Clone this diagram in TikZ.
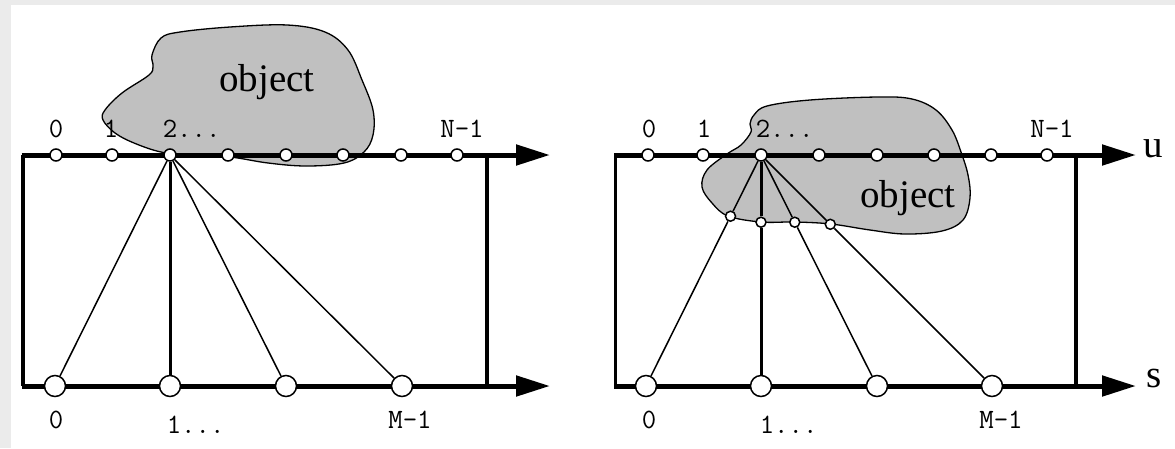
\documentclass[tikz,border=0pt]{standalone}
\usepackage{fontspec}
\setmainfont{Liberation Serif}
\usetikzlibrary{arrows.meta,calc}
\pgfdeclarelayer{bglayer}
\pgfdeclarelayer{bloblayer}
\pgfdeclarelayer{linelayer}
\pgfsetlayers{bglayer,bloblayer,linelayer,main}
\definecolor{pagegrey}{HTML}{EBEBEB}
\definecolor{blobgrey}{HTML}{C0C0C0}
\begin{document}
\begin{tikzpicture}[x=1pt,y=-1pt,
  axisline/.style={line width=5pt,-{Triangle[length=34pt,width=20pt]}},
  frameline/.style={line width=3.2pt},
  fanline/.style={line width=1.5pt},
  midline/.style={line width=3pt},
  dotsmall/.style={circle,draw,fill=white,line width=1.5pt,minimum size=12pt,inner sep=0pt},
  dotbig/.style={circle,draw,fill=white,line width=1.5pt,minimum size=21pt,inner sep=0pt},
  dotinner/.style={circle,draw,fill=white,line width=1.5pt,minimum size=10pt,inner sep=0pt},
  blob/.style={fill=blobgrey,draw=black,line width=1.3pt},
  idx/.style={font=\ttfamily\fontsize{28}{28}\selectfont,inner sep=0pt,anchor=base},
  word/.style={font=\fontsize{39}{39}\selectfont,inner sep=0pt,anchor=base},
]
\useasboundingbox (0,0) rectangle (1175,448);
\begin{pgfonlayer}{bglayer}
  \fill[white] (0,0) rectangle (1175,448);
  \fill[pagegrey] (0,0) rectangle (1175,5);
  \fill[pagegrey] (0,0) rectangle (11,448);
\end{pgfonlayer}

% ---------- blobs ----------
\begin{pgfonlayer}{bloblayer}
  \draw[blob] plot[smooth cycle,tension=0.6] coordinates {
    (161,38) (180,32) (230,27) (287,25) (325,32) (348,50) (362,80) (373,110)
    (373,135) (364,152) (344,163) (306,166) (268,163) (230,157) (190,155)
    (161,152) (134,143) (115,133) (103,120) (105,110) (122,93) (149,75)
    (153,66) (152,55)};
  \draw[blob] plot[smooth cycle,tension=0.6] coordinates {
    (767,106) (810,100) (878,97) (912,99) (936,110) (952,130) (961,152)
    (968,175) (970,198) (963,220) (942,231) (905,234) (870,230) (831,224)
    (795,222) (761,222) (728,216) (712,203) (702,187) (707,170) (727,154)
    (741,145) (751,132) (750,124) (754,115)};
\end{pgfonlayer}

% ---------- left panel ----------
\foreach \x [count=\i from 0] in {56,112,170,228,286,343,401,457}
  \node[dotsmall] (lt\i) at (\x,155) {};
\foreach \x [count=\i from 0] in {55,170,286,402}
  \node[dotbig] (lb\i) at (\x,386) {};
\coordinate (lTS) at (21.5,155);
\coordinate (lTE) at (550,155);
\coordinate (lBS) at (21.5,386);
\coordinate (lBE) at (550,386);
\coordinate (lVLt) at (23,155);
\coordinate (lVLb) at (23,386);
\coordinate (lVRt) at (487,155);
\coordinate (lVRb) at (487,386);

% ---------- right panel ----------
\foreach \x [count=\i from 0] in {648,703,761,819,877,934,991,1047}
  \node[dotsmall] (rt\i) at (\x,155) {};
\foreach \x [count=\i from 0] in {646,761,877,992}
  \node[dotbig] (rb\i) at (\x,386) {};
\node[dotinner] (ri0) at ($(rt2)!0.265!(rb0)$) {};
\node[dotinner] (ri1) at ($(rt2)!0.291!(rb1)$) {};
\node[dotinner] (ri2) at ($(rt2)!0.291!(rb2)$) {};
\node[dotinner] (ri3) at ($(rt2)!0.300!(rb3)$) {};
\coordinate (rTS) at (614,155);
\coordinate (rTE) at (1136,155);
\coordinate (rBS) at (614,386);
\coordinate (rBE) at (1136,386);
\coordinate (rVLt) at (615.5,155);
\coordinate (rVLb) at (615.5,386);
\coordinate (rVRt) at (1076,155);
\coordinate (rVRb) at (1076,386);

\begin{pgfonlayer}{linelayer}
  % left
  \draw[frameline] (lVLt) -- (lVLb);
  \draw[frameline] (lVRt) -- (lVRb);
  \draw[fanline] (lt2) -- (lb0);
  \draw[midline] (lt2) -- (lb1);
  \draw[fanline] (lt2) -- (lb2);
  \draw[fanline] (lt2) -- (lb3);
  \draw[axisline] (lTS) -- (lTE);
  \draw[axisline] (lBS) -- (lBE);
  % right
  \draw[frameline] (rVLt) -- (rVLb);
  \draw[frameline] (rVRt) -- (rVRb);
  \draw[fanline] (rt2) -- (ri0) -- (rb0);
  \draw[midline] (rt2) -- (ri1) -- (rb1);
  \draw[fanline] (rt2) -- (ri2) -- (rb2);
  \draw[fanline] (rt2) -- (ri3) -- (rb3);
  \draw[axisline] (rTS) -- (rTE);
  \draw[axisline] (rBS) -- (rBE);
\end{pgfonlayer}

% ---------- labels ----------
\node[idx] (lN0) at (56,137) {0};
\node[idx] (lN1) at (111,137) {1};
\node[idx,anchor=base west] (lN2) at (162.6,137) {2...};
\node[idx] (lNN) at (462,137) {N-1};
\node[idx] (lM0) at (56,428) {0};
\node[idx,anchor=base west] (lM1) at (166.6,433) {1...};
\node[idx] (lMM) at (410,428) {M-1};
\node[word] (lobj) at (267,91) {object};

\node[idx] (rN0) at (649,137) {0};
\node[idx] (rN1) at (704,137) {1};
\node[idx,anchor=base west] (rN2) at (755.6,137) {2...};
\node[idx] (rNN) at (1052,137) {N-1};
\node[idx] (rM0) at (649,428) {0};
\node[idx,anchor=base west] (rM1) at (759.6,433) {1...};
\node[idx] (rMM) at (1001,428) {M-1};
\node[word] (robj) at (908,207) {object};
\node[word] (ulab) at (1153,157) {u};
\node[word] (slab) at (1154,387) {s};
\end{tikzpicture}
\end{document}
